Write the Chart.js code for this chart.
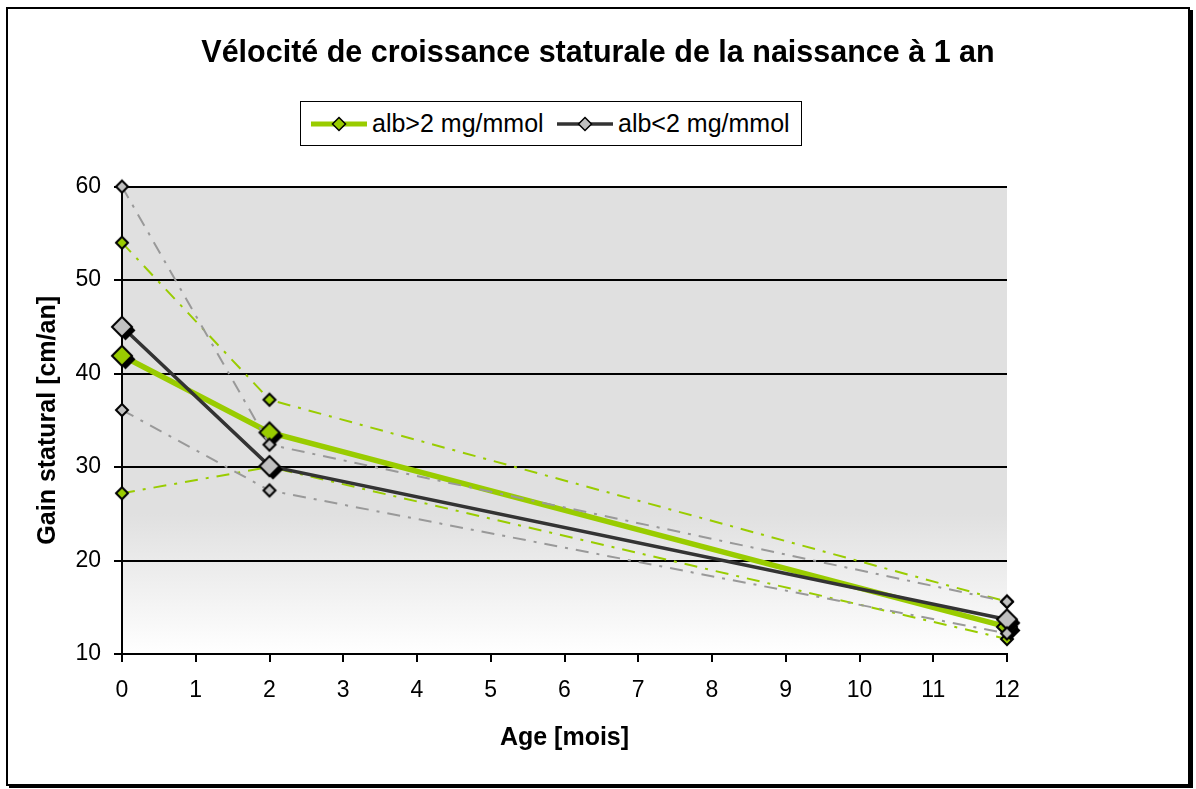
<!DOCTYPE html>
<html>
<head>
<meta charset="utf-8">
<script src="https://cdn.jsdelivr.net/npm/chart.js@4"></script>
<style>
  body { margin: 0; background: #fff; }
  #wrap { position: relative; width: 1196px; height: 789px; }
  #legend {
    position: absolute; left: 300px; top: 101px; width: 500px; height: 43px;
    border: 1.5px solid #000; background: #fff;
    font-family: Arial, "Liberation Sans", sans-serif; font-size: 25px; color: #000;
  }
  #legend svg, #legend span { position: absolute; }
  #legend span { top: 50%; transform: translateY(-52%); white-space: nowrap; }
</style>
</head>
<body>
<div id="wrap">
  <canvas id="growth" width="1196" height="789"></canvas>
  <div id="legend">
    <svg style="left:10px;top:11px" width="56" height="22">
      <line x1="0" y1="11" x2="56" y2="11" stroke="#99cc00" stroke-width="5"/>
      <path d="M28 4.5 L34.5 11 L28 17.5 L21.5 11 Z" fill="#99cc00" stroke="#000" stroke-width="1.5"/>
    </svg>
    <span style="left:71px">alb&gt;2 mg/mmol</span>
    <svg style="left:256px;top:11px" width="56" height="22">
      <line x1="0" y1="11" x2="56" y2="11" stroke="#333333" stroke-width="3.5"/>
      <path d="M28 4.5 L34.5 11 L28 17.5 L21.5 11 Z" fill="#c0c0c0" stroke="#000" stroke-width="1.5"/>
    </svg>
    <span style="left:317px">alb&lt;2 mg/mmol</span>
  </div>
</div>
<script>
const ages = [0, 2, 12];
const greenMain = [41.9, 33.7, 12.9];
const greenUpper = [54.0, 37.2, 15.6];
const greenLower = [27.2, 30.0, 11.6];
const grayMain = [45.0, 30.1, 13.7];
const grayUpper = [60.0, 32.4, 15.6];
const grayLower = [36.1, 27.5, 12.2];
const xTickValues = [0, 1, 2, 3, 4, 5, 6, 7, 8, 9, 10, 11, 12];
const yTickValues = [10, 20, 30, 40, 50, 60];

const GREEN = '#99cc00';
const DARK = '#333333';
const GRAY = '#999999';
const MARK_GRAY = '#c0c0c0';

Chart.defaults.font.family = 'Arial, "Liberation Sans", sans-serif';
Chart.defaults.color = '#000';

// diamond marker, optionally with a black drop shadow (as in the excel export)
function diamond(r, fill, shadow) {
  const c = document.createElement('canvas');
  const s = 2 * (r + 6);
  c.width = s; c.height = s;
  const g = c.getContext('2d');
  const cx = s / 2, cy = s / 2;
  const path = (x, y) => {
    g.beginPath();
    g.moveTo(x, y - r); g.lineTo(x + r, y); g.lineTo(x, y + r); g.lineTo(x - r, y);
    g.closePath();
  };
  if (shadow) {
    path(cx + 3.5, cy + 3.5);
    g.fillStyle = '#000';
    g.fill();
  }
  path(cx, cy);
  g.fillStyle = fill;
  g.fill();
  g.lineWidth = 2;
  g.strokeStyle = '#000';
  g.stroke();
  return c;
}

function pts(vals) {
  return vals.map((v, i) => ({x: ages[i], y: v}));
}

function dashed(vals, color, fill) {
  return {
    data: pts(vals),
    borderColor: color,
    borderWidth: 2,
    borderDash: [13, 8, 3, 8],
    pointStyle: diamond(6, fill, false),
    pointRadius: 6,
    tension: 0,
    clip: false
  };
}

const frame = {
  id: 'frame',
  beforeDraw(chart) {
    const {ctx, chartArea: a} = chart;
    ctx.save();
    ctx.fillStyle = '#fff';
    ctx.fillRect(0, 0, chart.width, chart.height);
    const grad = ctx.createLinearGradient(0, a.top, 0, a.bottom);
    grad.addColorStop(0, '#e0e0e0');
    grad.addColorStop(0.7, '#e0e0e0');
    grad.addColorStop(1, '#ffffff');
    ctx.fillStyle = grad;
    ctx.fillRect(a.left, a.top, a.right - a.left, a.bottom - a.top);
    ctx.restore();
  },
  afterDraw(chart) {
    const ctx = chart.ctx;
    ctx.save();
    ctx.strokeStyle = '#000';
    ctx.lineWidth = 2;
    ctx.strokeRect(7, 8, 1182, 777);
    ctx.fillStyle = '#000';
    ctx.fillRect(1189, 10, 4, 778);
    ctx.fillRect(9, 785, 1184, 3);
    ctx.restore();
  }
};

new Chart(document.getElementById('growth'), {
  type: 'line',
  data: {
    // first dataset ends up on top
    datasets: [
      dashed(grayUpper, GRAY, MARK_GRAY),
      dashed(grayLower, GRAY, MARK_GRAY),
      {
        label: 'alb<2 mg/mmol',
        data: pts(grayMain),
        borderColor: DARK,
        borderWidth: 3.5,
        pointStyle: diamond(10, MARK_GRAY, true),
        pointRadius: 10,
        tension: 0,
        clip: false
      },
      {
        label: 'alb>2 mg/mmol',
        data: pts(greenMain),
        borderColor: GREEN,
        borderWidth: 5.5,
        pointStyle: diamond(10, GREEN, true),
        pointRadius: 10,
        tension: 0,
        clip: false
      },
      dashed(greenUpper, GREEN, GREEN),
      dashed(greenLower, GREEN, GREEN)
    ]
  },
  options: {
    responsive: false,
    animation: false,
    layout: { padding: 0 },
    plugins: {
      legend: { display: false },
      tooltip: { enabled: false },
      title: {
        display: true,
        text: 'Vélocité de croissance staturale de la naissance à 1 an',
        font: { size: 30.5, weight: 'bold' },
        color: '#000',
        padding: { top: 35, bottom: 115 }
      }
    },
    scales: {
      x: {
        type: 'linear',
        min: 0,
        max: 12,
        afterBuildTicks: s => { s.ticks = xTickValues.map(v => ({value: v})); },
        afterFit: s => { s.height = 135; },
        ticks: { font: { size: 23 }, padding: 15, maxRotation: 0, autoSkip: false },
        grid: { drawOnChartArea: false, color: '#000', lineWidth: 2, tickLength: 8 },
        border: { color: '#000', width: 2 },
        title: {
          display: true,
          text: 'Age [mois]',
          font: { size: 25, weight: 'bold' },
          padding: { top: 0, bottom: 36 }
        }
      },
      y: {
        min: 10,
        max: 60,
        afterBuildTicks: s => { s.ticks = yTickValues.map(v => ({value: v})); },
        afterFit: s => { s.width = 122; },
        ticks: { font: { size: 23 }, padding: 13 },
        grid: { color: '#000', lineWidth: 2, tickLength: 8 },
        border: { color: '#000', width: 2 },
        title: {
          display: true,
          text: 'Gain statural [cm/an]',
          font: { size: 25, weight: 'bold' },
          padding: { top: 33, bottom: 0 }
        }
      },
      // empty right-hand margin so the title stays centred on the whole canvas
      spacer: {
        position: 'right',
        min: 10,
        max: 60,
        ticks: { display: false },
        grid: { display: false },
        border: { display: false },
        afterFit: s => { s.width = 189; }
      }
    }
  },
  plugins: [frame]
});
</script>
</body>
</html>
